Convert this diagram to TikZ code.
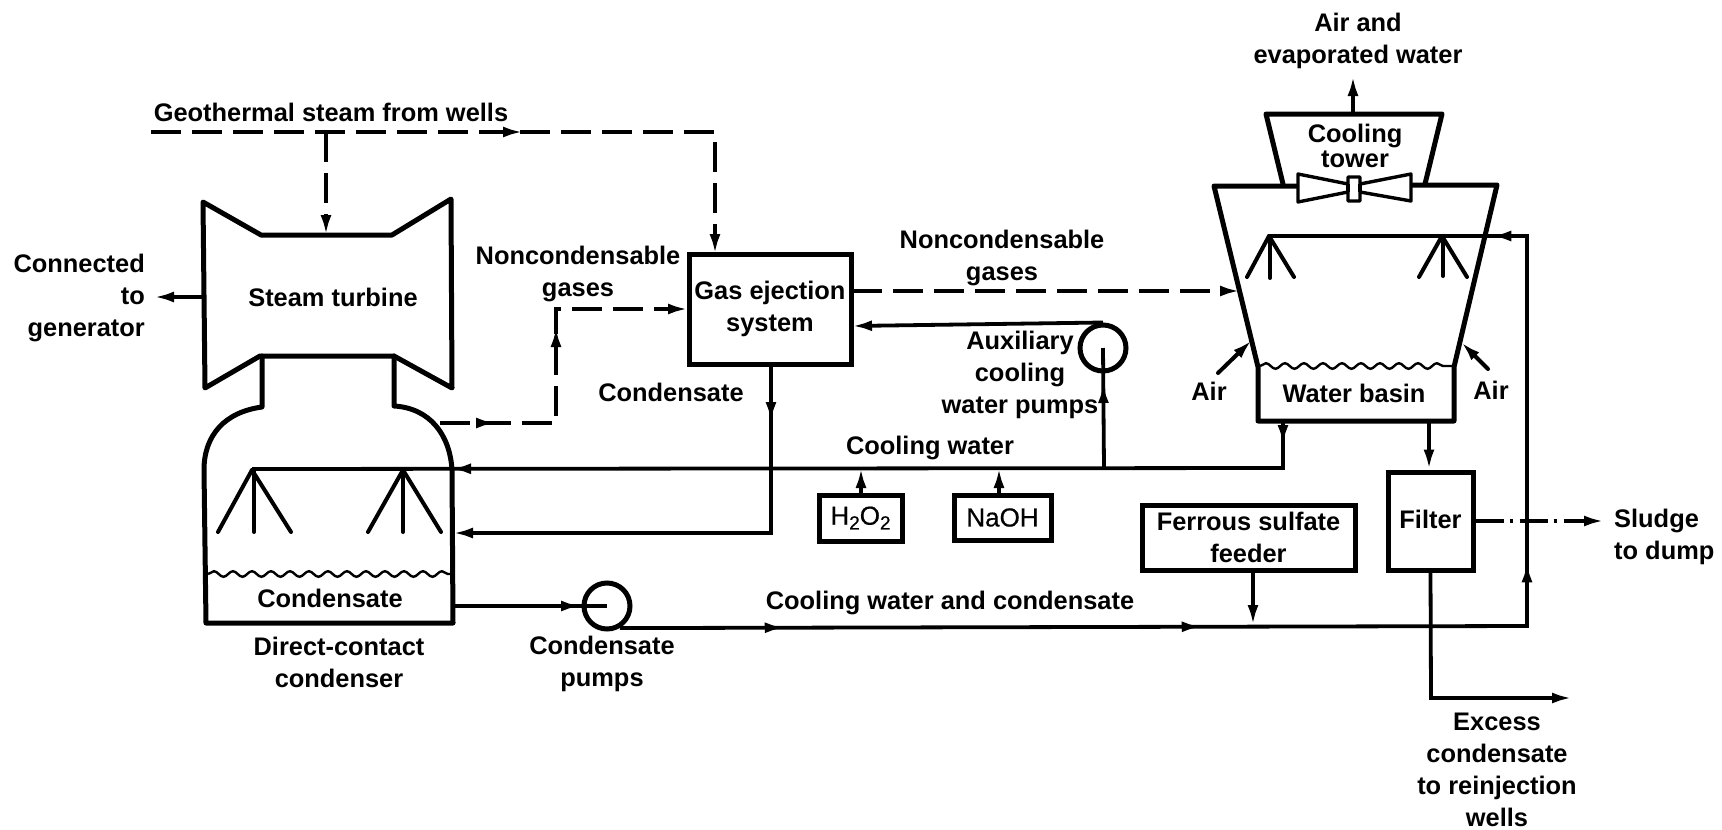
\documentclass[tikz,border=0pt]{standalone}
\usepackage{fontspec}
\setmainfont{Liberation Sans}
\newfontfamily\chemfont[FakeBold=0.6]{Liberation Sans}
\usetikzlibrary{arrows.meta,decorations.markings,decorations.pathmorphing}
\tikzset{
  x=1pt,y=-1pt,
  outline/.style={draw=black,line width=5pt,line join=round,line cap=round},
  pipe/.style={draw=black,line width=3.8pt,line join=miter},
  spray/.style={draw=black,line width=4pt,line cap=round},
  gasline/.style={pipe,dash pattern=on 30pt off 11pt},
  sludgeline/.style={pipe,dash pattern=on 28pt off 6pt on 3pt off 7pt},
  tipend/.style={-{Latex[length=20pt,width=11pt]}},
  tipat/.style={postaction={decorate,decoration={markings,mark=at position #1pt with {\arrow{Latex[length=20pt,width=11pt]}}}}},
  lbl/.style={font=\fontsize{25.4}{32}\selectfont\bfseries,align=center,inner sep=0pt,text=black},
  boxn/.style={lbl,draw=black,line width=5pt,inner sep=0pt},
  chem/.style={boxn,font=\fontsize{26}{30}\selectfont\chemfont},
  pumpc/.style={circle,draw=black,line width=5pt,minimum size=46pt,inner sep=0pt},
  wave/.style={draw=black,line width=2.4pt,decorate,decoration={snake,amplitude=2.8pt,segment length=19pt}},
}
\begin{document}
\begin{tikzpicture}
\useasboundingbox (0,0) rectangle (1722,830);
% ---- boxes
\node[boxn,minimum width=162pt,minimum height=110pt] (gas) at (770,309) {Gas ejection\\system};
\node[chem,minimum width=83pt,minimum height=46pt] (hoo) at (860.5,518) {H\raisebox{-0.35ex}{\fontsize{19}{19}\selectfont 2}O\raisebox{-0.35ex}{\fontsize{19}{19}\selectfont 2}};
\node[chem,minimum width=97pt,minimum height=45pt] (naoh) at (1002.5,517.5) {NaOH};
\node[boxn,minimum width=213pt,minimum height=65pt] (ferrous) at (1248.5,537.5) {Ferrous sulfate\\feeder};
\node[boxn,minimum width=85pt,minimum height=98pt] (filter) at (1430.5,521) {\raisebox{4pt}{Filter}};
\node[pumpc] (cpump) at (607,606) {};
\node[pumpc] (apump) at (1103,348) {};
% ---- named points
\coordinate (geoS) at (151,132);
\coordinate (geoB) at (326,132);
\coordinate (geoC) at (715,132);
\coordinate (turbT) at (326,235);
\coordinate (gasT) at (715,254);
\coordinate (turbL) at (203,297);
\coordinate (genE) at (154,297);
\coordinate (condG) at (440,423);
\coordinate (gc1) at (556,423);
\coordinate (gc2) at (556,309);
\coordinate (gasL) at (688,309);
\coordinate (gasR) at (852,291);
\coordinate (towL) at (1240,291);
\coordinate (gasA) at (852,326);
\coordinate (hdrC1) at (252,469);
\coordinate (hdrC2) at (403,469);
\coordinate (condW) at (453,469);
\coordinate (condIn) at (453,533);
\coordinate (condOut) at (453,606);
\coordinate (gasB) at (771,364);
\coordinate (gasC) at (771,533);
\coordinate (basL) at (1283,421);
\coordinate (basLc) at (1283,468);
\coordinate (basR) at (1429,421);
\coordinate (auxJ) at (1104,468);
\coordinate (hooJ) at (861,468);
\coordinate (naohJ) at (999,468);
\coordinate (mainE) at (1527,626);
\coordinate (mainU) at (1527,236);
\coordinate (hdrT1) at (1269,236);
\coordinate (hdrT2) at (1442,236);
\coordinate (fsJ) at (1253,625);
\coordinate (filtO) at (1431,698);
\coordinate (exE) at (1572,698);
\coordinate (slE) at (1604,521);
\coordinate (exhS) at (1353,114);
\coordinate (exhE) at (1353,76);
% ---- turbine
\draw[outline] (203,202) -- (261,235) -- (392,235) -- (451,199) -- (452,388) -- (394,356) -- (260,356) -- (205,388) -- cycle;
% ---- condenser
\draw[outline] (262,356) -- (262,407) .. controls (225,412) and (204,435) .. (204,470) -- (206,623) -- (453,623) -- (452,470) .. controls (450,435) and (430,408) .. (394,406) -- (394,356);
\path[wave] (208,574) -- (450,574);
\foreach \a/\b in {252/218,254/254,252/291,403/368,403/403,403/441}{
  \draw[spray] (\a,470) -- (\b,532);
}
% ---- cooling tower
\draw[outline] (1283,184) -- (1266,114) -- (1442,114) -- (1425,184);
\draw[outline] (1298,186) -- (1214,186) -- (1258,367) -- (1258,421) -- (1454,421) -- (1454,367) -- (1497,185) -- (1411,185);
\path[wave] (1260,366) -- (1452,366);
\foreach \a/\b/\c in {1269/1247/277,1270/1270/278,1269/1294/277,1442/1419/277,1443/1443/276,1442/1467/277}{
  \draw[spray] (\a,236) -- (\b,\c);
}
\draw[draw=black,fill=white,line width=3.4pt,line join=round] (1298,174) -- (1348,184) -- (1348,177) -- (1360,177) -- (1360,184) -- (1411,174) -- (1411,201) -- (1360,192) -- (1360,201) -- (1348,201) -- (1348,192) -- (1298,202) -- cycle;
\draw[line width=3.4pt] (1348,184) -- (1348,192) (1360,184) -- (1360,192);
% ---- connectors
\draw[gasline,tipend,tipat=372] (geoS) -- (geoC) -- (gasT);
\draw[gasline,tipend] (geoB) -- (turbT);
\draw[pipe,tipend] (turbL) -- (genE);
\draw[gasline,tipend,tipat=56,tipat=212] (condG) -- (gc1) -- (gc2) -- (gasL);
\draw[gasline,tipend] (gasR) -- (towL);
\draw[pipe,tipend] (apump.north) -- (gasA);
\draw[pipe,tipat=85] (auxJ) -- (apump.center);
\draw[pipe,tipat=24,tipat=879] (basL) -- (basLc) -- (hdrC1);
\draw[pipe,tipat=58,tipend] (gasB) -- (gasC) -- (condIn);
\draw[pipe,tipend] (hoo.north -| hooJ) -- (hooJ);
\draw[pipe,tipend] (naoh.north -| naohJ) -- (naohJ);
\draw[pipe,tipat=128] (condOut) -- (cpump.center);
\draw[pipe,tipat=165,tipat=582,tipat=971,tipat=1333] (cpump.-60) -- (mainE) -- (mainU) -- (hdrT1);
\draw[pipe,tipend] (ferrous.south -| fsJ) -- (fsJ);
\draw[pipe,tipend] (basR) -- (filter.north -| basR);
\draw[pipe,tipend] (filter.south) -- (filtO) -- (exE);
\draw[sludgeline,tipend] (filter.east) -- (slE);
\draw[pipe,tipend] (exhS) -- (exhE);
\draw[spray,{Latex[length=20pt,width=11pt]}-] (1252,340) -- (1218,373);
\draw[spray,{Latex[length=20pt,width=11pt]}-] (1461,342) -- (1488,369);
% ---- labels
\node[lbl] (geoT) at (331,112) {Geothermal steam from wells};
\node[lbl] (turbT2) at (333,297) {Steam turbine};
\node[lbl,align=right,anchor=east] (genT) at (145,298) {Connected\\to\\generator};
\node[lbl] (ncL) at (578,274) {Noncondensable\\gases};
\node[lbl] (ncR) at (1002,258) {Noncondensable\\gases};
\node[lbl] (cdnsG) at (671,392) {Condensate};
\node[lbl] (auxT) at (1020,375) {Auxiliary\\cooling\\water pumps};
\node[lbl] (cwT) at (930,448) {Cooling water};
\node[lbl] (cwcT) at (950,603) {Cooling water and condensate};
\node[lbl] (cdnsT) at (330,598) {Condensate};
\node[lbl] (dcT) at (339,662) {Direct-contact\\condenser};
\node[lbl] (cpT) at (602,664) {Condensate\\pumps};
\node[lbl] (airT) at (1358,41) {Air and\\evaporated water};
\node[lbl] (ctT) at (1355,146) {Cooling\\[-7pt]tower};
\node[lbl] (airL) at (1209,391) {Air};
\node[lbl] (airR) at (1491,390) {Air};
\node[lbl] (wbT) at (1354,393) {Water basin};
\node[lbl,align=left,anchor=west] (slT) at (1614,537) {Sludge\\to dump};
\node[lbl] (exT) at (1497,770) {Excess\\condensate\\to reinjection\\wells};
\end{tikzpicture}
\end{document}
